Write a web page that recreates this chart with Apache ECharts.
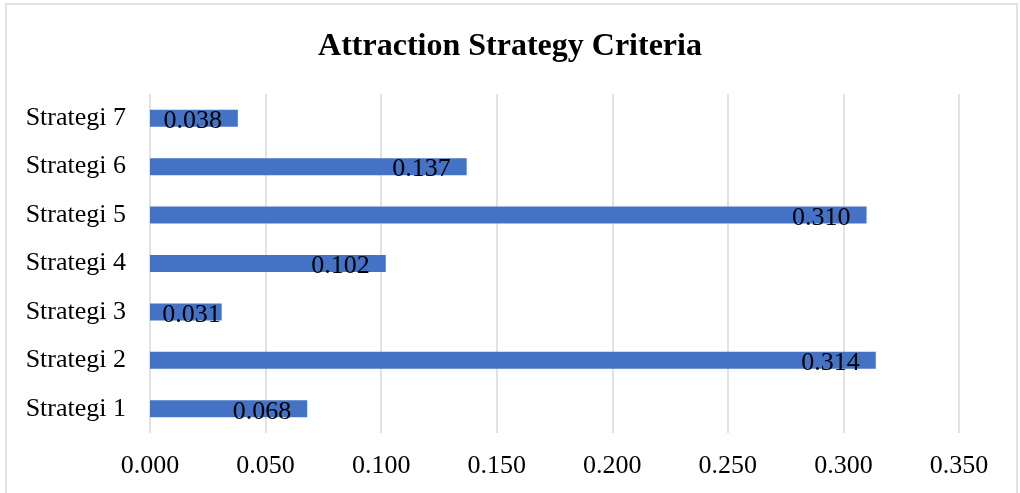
<!DOCTYPE html>
<html>
<head>
<meta charset="utf-8">
<script src="https://cdn.jsdelivr.net/npm/echarts@6/dist/echarts.min.js"></script>
<style>
  html, body { margin: 0; padding: 0; background: #fff; }
  #main { width: 1020px; height: 493px; }
</style>
</head>
<body>
<div id="main"></div>
<script>
// data
var categories = ['Strategi 1', 'Strategi 2', 'Strategi 3', 'Strategi 4', 'Strategi 5', 'Strategi 6', 'Strategi 7'];
var values = [0.068, 0.314, 0.031, 0.102, 0.310, 0.137, 0.038];
var tickMin = 0, tickMax = 0.35, tickStep = 0.05;

var font = '"Liberation Serif", "Times New Roman", serif';
var myChart = echarts.init(document.getElementById('main'));

var option = {
    animation: false,
    backgroundColor: '#fff',
    title: {
        text: 'Attraction Strategy Criteria',
        left: 'center',
        top: 26,
        textStyle: { fontFamily: font, fontSize: 32, fontWeight: 'bold', color: '#000' }
    },
    // outer frame of the chart
    graphic: [{
        type: 'rect',
        shape: { x: 6, y: 4, width: 1011, height: 520 },
        style: { fill: 'none', stroke: '#d9d9d9', lineWidth: 1.5 },
        silent: true
    }],
    grid: { left: 150, right: 61, top: 94, bottom: 60, containLabel: false },
    xAxis: {
        type: 'value',
        min: tickMin,
        max: tickMax,
        interval: tickStep,
        axisLine: { show: false },
        axisTick: { show: false },
        splitLine: { lineStyle: { color: '#d9d9d9', width: 1.5 } },
        axisLabel: {
            margin: 20,
            fontFamily: font,
            fontSize: 26,
            color: '#000',
            formatter: function (v) { return v.toFixed(3); }
        }
    },
    yAxis: {
        type: 'category',
        data: categories,
        axisLine: { show: false },
        axisTick: { show: false },
        axisLabel: { margin: 24, fontFamily: font, fontSize: 26, color: '#000' }
    },
    series: [{
        type: 'bar',
        data: values,
        barWidth: 17,
        itemStyle: { color: '#4472C4' },
        label: {
            show: true,
            position: 'insideRight',
            distance: 16,
            offset: [0, 3],
            fontFamily: font,
            fontSize: 26,
            color: '#000',
            formatter: function (p) { return p.value.toFixed(3); }
        }
    }]
};
myChart.setOption(option);

// short bars: keep the label inside the bar (like Excel does)
var x0 = myChart.convertToPixel({ xAxisIndex: 0 }, 0);
var labelW = 58;
var items = values.map(function (v) {
    var len = myChart.convertToPixel({ xAxisIndex: 0 }, v) - x0;
    var d = Math.max(1, Math.min(16, len - labelW - 14));
    return { value: v, label: { distance: d } };
});
myChart.setOption({ series: [{ data: items }] });
</script>
</body>
</html>
